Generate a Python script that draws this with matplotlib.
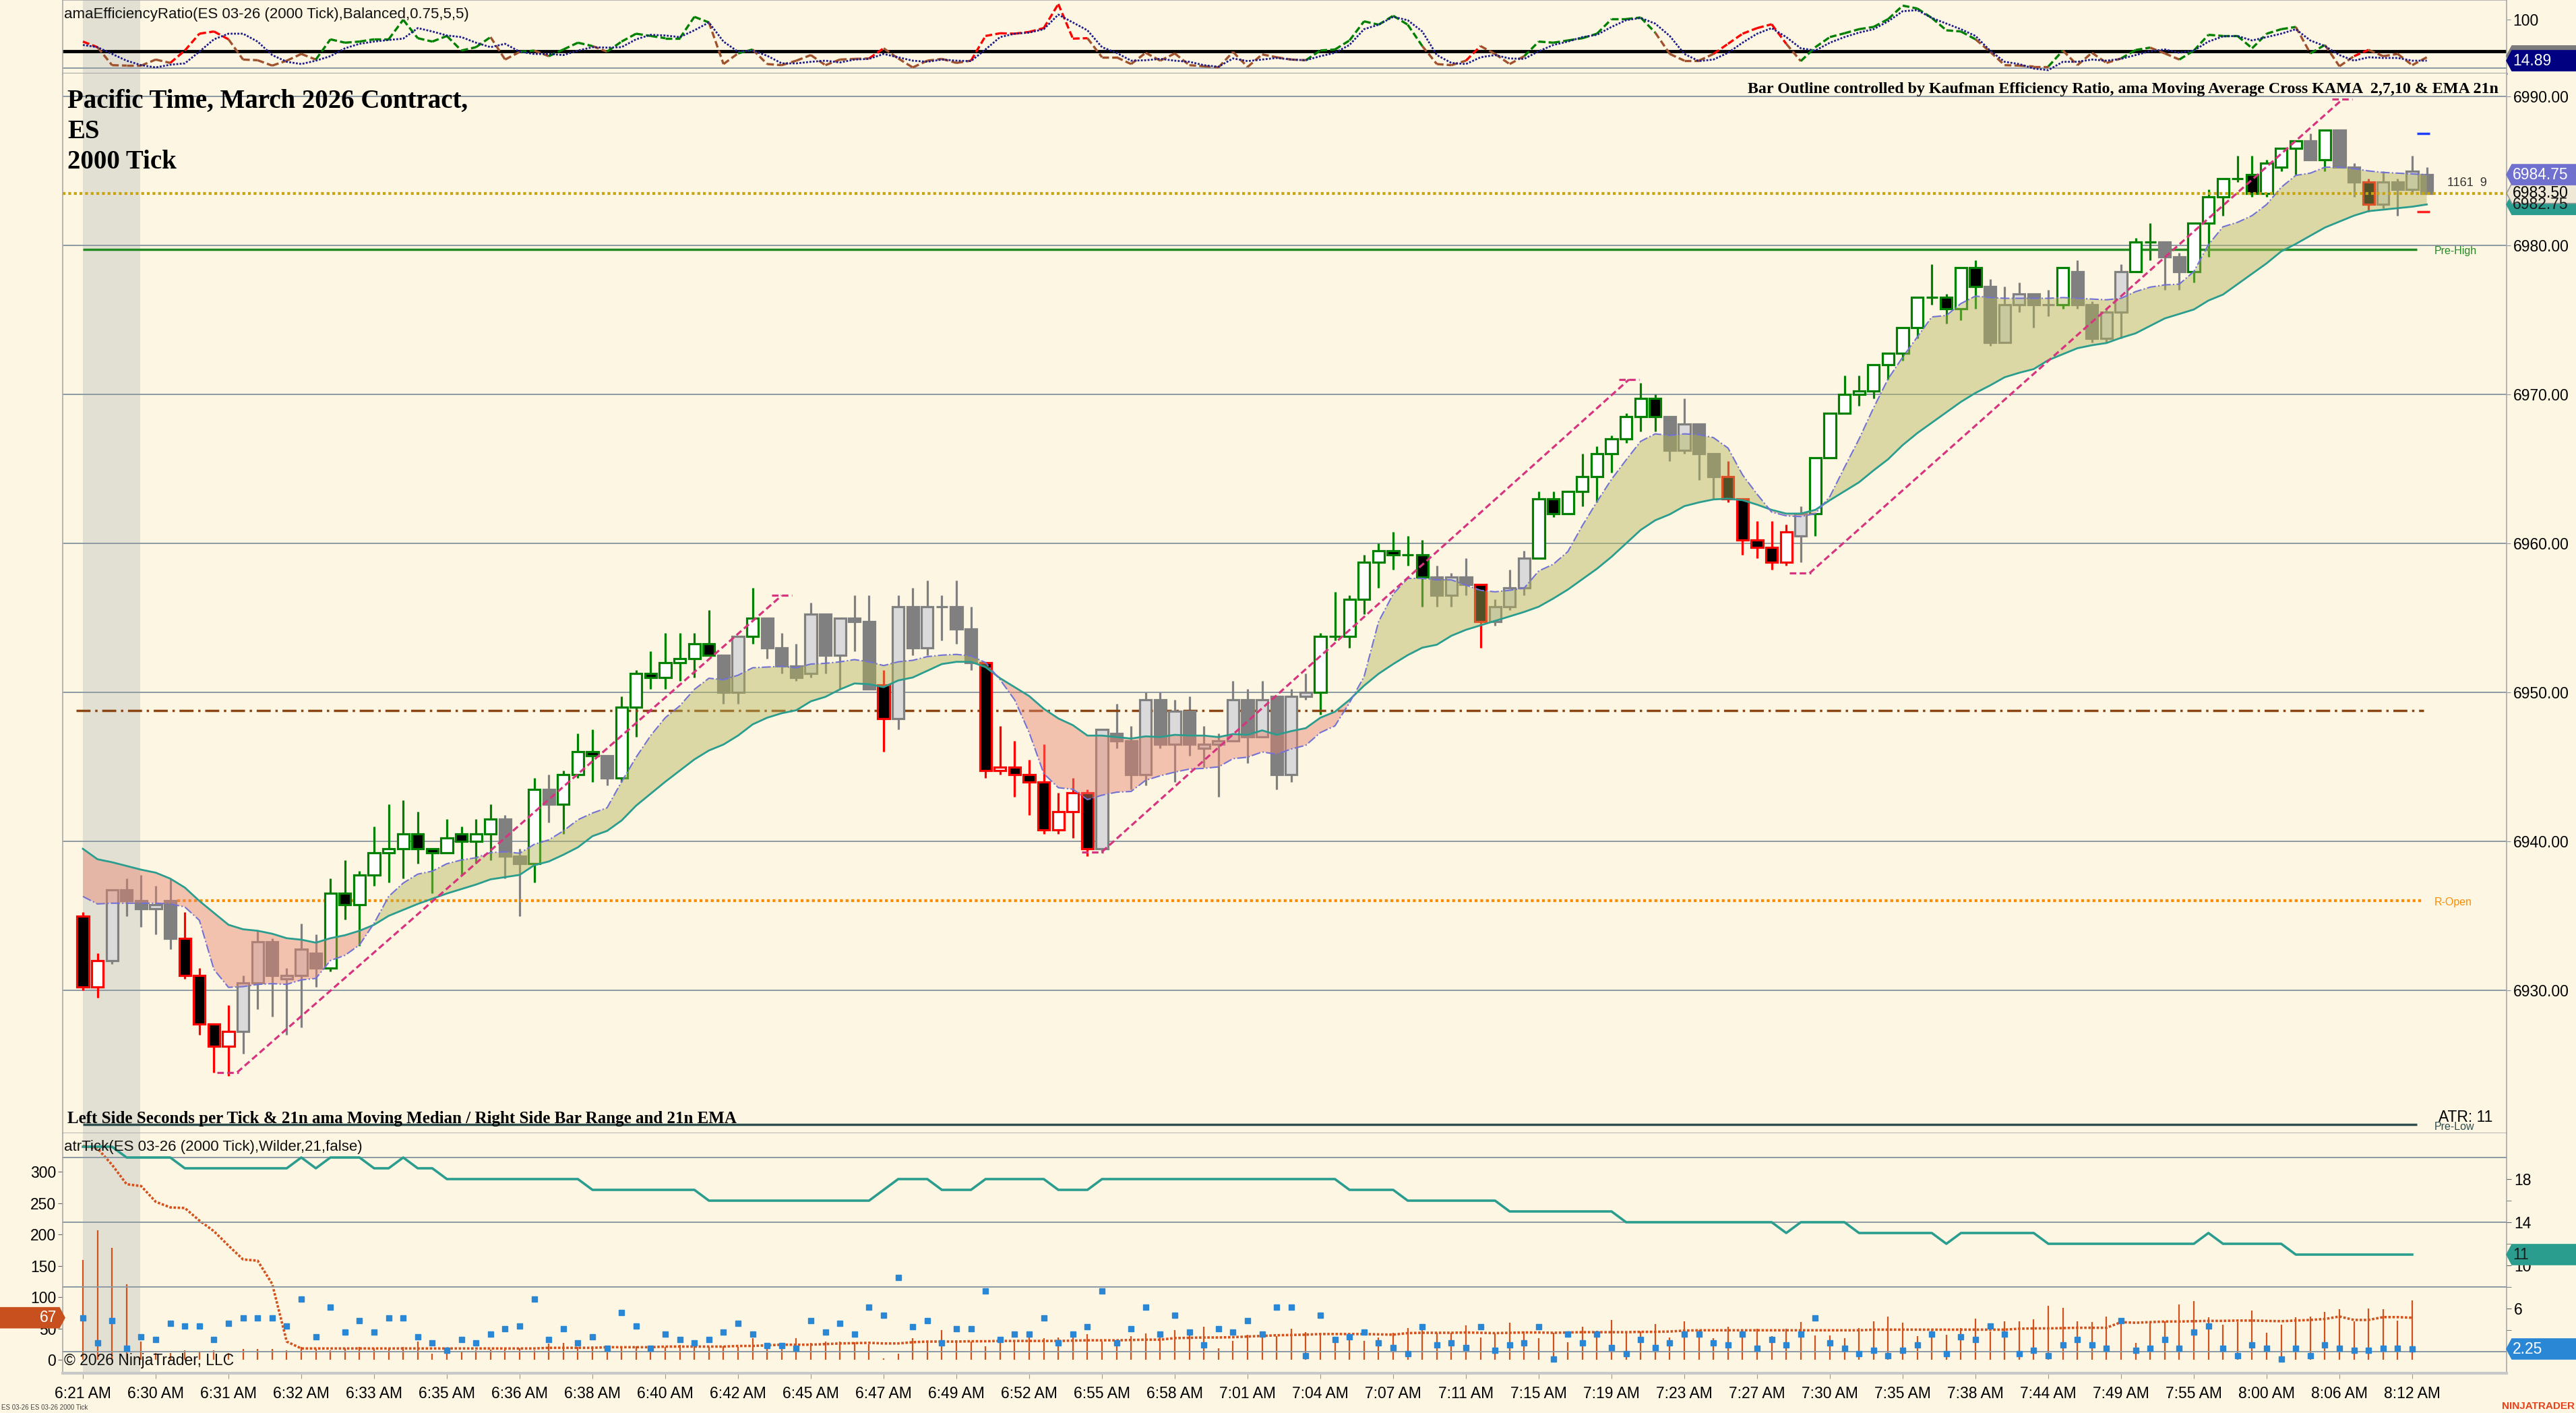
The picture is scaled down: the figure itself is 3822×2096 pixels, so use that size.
import numpy as np
import matplotlib.pyplot as plt
from matplotlib.patches import Polygon
from matplotlib.collections import LineCollection

plt.rcParams['font.family'] = ['Liberation Sans', 'DejaVu Sans']
SERIF = ['Liberation Serif', 'DejaVu Serif']

W_PX, H_PX = 3823, 2096
BG = '#fdf6e3'
GRID = '#8d9aa4'

# ---------------- 2000 tick bars (ES 03-26) ----------------
opens = [
    6935, 6930.25, 6932, 6936.75, 6936, 6935.5, 6936, 6933.5, 6931, 6927.75,
    6926.25, 6927.25, 6930.5, 6933.25, 6930.75, 6931, 6932.5, 6931.5, 6936.5, 6935.75,
    6937.75, 6939.25, 6939.5, 6940.5, 6939.5, 6939.25, 6940.5, 6940, 6940.5, 6941.5,
    6939, 6938.5, 6943.5, 6942.5, 6944.5, 6946, 6945.75, 6944.25, 6949, 6951.25,
    6951, 6952, 6952.25, 6953.25, 6952.5, 6950, 6953.75, 6955, 6953, 6951.75,
    6951.25, 6955.25, 6952.5, 6955, 6954.75, 6950.5, 6948.25, 6955.75, 6953, 6955.75,
    6955.75, 6954.25, 6952, 6944.75, 6945, 6944.5, 6944, 6940.75, 6942, 6943.25,
    6939.5, 6947.25, 6946.75, 6944.5, 6949.5, 6946.5, 6948.75, 6946.25, 6946.5, 6946.75,
    6949.5, 6947, 6949.75, 6944.5, 6949.75, 6950, 6953.75, 6953.75, 6956.25, 6958.75,
    6959.5, 6959.25, 6959.25, 6957.75, 6956.5, 6957.75, 6957.25, 6954.75, 6955.75, 6957,
    6959, 6963, 6962, 6963.5, 6964.5, 6966, 6967, 6968.5, 6969.75, 6968.5,
    6966.25, 6968, 6966, 6964.5, 6963, 6960.25, 6959.75, 6958.75, 6960.5, 6962,
    6965.75, 6968.75, 6970, 6970.25, 6972, 6972.75, 6974.5, 6976.5, 6976.5, 6975.75,
    6978.5, 6977.25, 6973.5, 6976, 6976.75, 6976, 6976, 6978.25, 6976, 6973.75,
    6975.5, 6978.25, 6980.25, 6980.25, 6979.25, 6978.25, 6981.5, 6983.25, 6984.5, 6984.75,
    6983.5, 6985.25, 6986.5, 6987, 6985.75, 6987.75, 6985.25, 6984.25, 6982.75, 6984.25,
    6983.75, 6984.75]
highs = [
    6935.25, 6932.5, 6936.75, 6937.5, 6937.75, 6937, 6937.5, 6935.25, 6931.5, 6927.75,
    6929, 6931, 6934, 6933.5, 6931.5, 6934.5, 6933.75, 6937.5, 6938.75, 6938,
    6941, 6942.5, 6942.75, 6942, 6939.5, 6941.5, 6941, 6941.5, 6942.5, 6941.75,
    6939.5, 6944.25, 6944.5, 6944.75, 6947.25, 6947.5, 6945.75, 6949.75, 6951.5, 6952.75,
    6954, 6954, 6954, 6955.5, 6952.5, 6953.75, 6957, 6955, 6954, 6953.25,
    6956, 6955.25, 6955, 6956.5, 6956.5, 6951.5, 6956.5, 6957, 6957.5, 6956.5,
    6957.5, 6955.75, 6952, 6947.75, 6946.75, 6945.5, 6946.5, 6943.25, 6944.25, 6943.5,
    6947.5, 6949.25, 6947.75, 6950, 6950, 6949.5, 6949.75, 6947.75, 6947.25, 6950.75,
    6950.25, 6950.75, 6949.75, 6950.25, 6951.25, 6954, 6956.75, 6956.5, 6959.25, 6960,
    6960.75, 6960.5, 6960.25, 6958.5, 6958, 6959, 6957.25, 6956.25, 6958.25, 6959.5,
    6963.5, 6963.5, 6963.5, 6966, 6966.5, 6967.25, 6968.75, 6970.75, 6970, 6968.5,
    6969.75, 6968, 6966, 6965.5, 6963, 6961.5, 6961.5, 6961.25, 6962.5, 6965.75,
    6968.75, 6971.25, 6971.25, 6972, 6972.75, 6974.5, 6976.5, 6978.75, 6976.75, 6978.5,
    6979, 6977.75, 6977.25, 6977.5, 6976.75, 6977, 6978.5, 6979, 6976.25, 6975.75,
    6978.75, 6980.5, 6981.5, 6980.25, 6979.5, 6981.5, 6983.75, 6984.5, 6986, 6986,
    6985.75, 6986.5, 6987, 6987.5, 6987.75, 6987.75, 6985.5, 6984.5, 6985, 6984.5,
    6986, 6985.25]
lows = [
    6930, 6929.5, 6931.75, 6935, 6934.25, 6933.75, 6932.75, 6930.75, 6927, 6924.5,
    6924.25, 6925.75, 6928.75, 6928.25, 6927, 6927.5, 6930.25, 6931.25, 6934.75, 6933,
    6937, 6937.25, 6937.5, 6938.5, 6936.5, 6939.25, 6937.75, 6938.5, 6938.75, 6937.5,
    6935, 6937.25, 6941.25, 6940.5, 6944.25, 6944, 6943.75, 6944, 6947, 6950.25,
    6950.25, 6950.75, 6951, 6952.5, 6949.25, 6949.25, 6953.25, 6952.25, 6951.25, 6950.75,
    6951, 6951.25, 6950.25, 6952.75, 6950.25, 6946, 6947.5, 6952.5, 6952.5, 6953.5,
    6953.25, 6951.5, 6944.25, 6944.5, 6943, 6941.75, 6940.5, 6940.5, 6940.25, 6939,
    6939.25, 6946.25, 6943.5, 6943.75, 6946.25, 6944, 6945.75, 6945, 6943, 6946.75,
    6945.25, 6947, 6943.5, 6944, 6949.5, 6948.5, 6953.5, 6953, 6955.25, 6957,
    6958.25, 6958.5, 6955.75, 6955.75, 6955.75, 6956.5, 6953, 6954.5, 6955.5, 6956.5,
    6959, 6961.75, 6962, 6962.5, 6962.75, 6964.75, 6966.75, 6967.5, 6967.5, 6965.5,
    6966, 6964.25, 6963, 6962.75, 6959.25, 6959, 6958.25, 6958.5, 6958.75, 6960.5,
    6965.75, 6968.75, 6969.25, 6969.75, 6971, 6972.25, 6973.75, 6976, 6974.75, 6975,
    6975.75, 6973.25, 6973.5, 6975.5, 6974.5, 6975.25, 6975.75, 6975.75, 6973.5, 6973.5,
    6973.75, 6978.25, 6979, 6977, 6977, 6977.5, 6979.25, 6982, 6984.25, 6983.25,
    6983.25, 6985, 6984.75, 6985.75, 6985, 6985.25, 6983.25, 6982.25, 6982.5, 6982,
    6983.5, 6983.5]
closes = [
    6930.25, 6932, 6936.75, 6936, 6935.5, 6935.75, 6933.5, 6931, 6927.75, 6926.25,
    6927.25, 6930.5, 6933.25, 6931, 6931, 6932.75, 6931.5, 6936.5, 6935.75, 6937.75,
    6939.25, 6939.5, 6940.5, 6939.5, 6939.25, 6940.25, 6940, 6940.5, 6941.5, 6939,
    6938.5, 6943.5, 6942.5, 6944.5, 6946, 6945.75, 6944.25, 6949, 6951.25, 6951,
    6952, 6952.25, 6953.25, 6952.5, 6950, 6953.75, 6955, 6953, 6951.75, 6951,
    6955.25, 6952.5, 6955, 6954.75, 6950.25, 6948.25, 6955.75, 6953, 6955.75, 6955.75,
    6954.25, 6952, 6944.75, 6945, 6944.5, 6944, 6940.75, 6942, 6943.25, 6939.5,
    6947.5, 6946.75, 6944.5, 6949.5, 6946.5, 6948.75, 6946.5, 6946.5, 6946.75, 6949.5,
    6947, 6949.5, 6944.5, 6949.75, 6950, 6953.75, 6953.75, 6956.25, 6958.75, 6959.5,
    6959.25, 6959.25, 6957.75, 6956.5, 6957.75, 6957.25, 6954.75, 6955.75, 6957, 6959,
    6963, 6962, 6963.5, 6964.5, 6966, 6967, 6968.5, 6969.75, 6968.5, 6966.25,
    6968, 6966, 6964.5, 6963, 6960.25, 6959.75, 6958.75, 6960.75, 6962, 6965.75,
    6968.75, 6970, 6970.25, 6972, 6972.75, 6974.5, 6976.5, 6976.5, 6975.75, 6978.5,
    6977.25, 6973.5, 6976, 6976.75, 6976, 6976, 6978.5, 6976, 6973.75, 6975.5,
    6978.25, 6980.25, 6980.25, 6979.25, 6978.25, 6981.5, 6983.25, 6984.5, 6984.5, 6983.5,
    6985.5, 6986.5, 6987, 6985.75, 6987.75, 6985.25, 6984.25, 6982.75, 6984.25, 6983.75,
    6985, 6983.5]

# bar outline state from the Kaufman efficiency ratio
green_bars = (list(range(17, 29)) + [31, 33, 34, 35] + list(range(37, 44)) + [46]
              + list(range(85, 93)) + list(range(100, 109)) + list(range(119, 131))
              + [136, 141, 142] + list(range(145, 153)) + [154])
red_bars = [0, 1, 7, 8, 9, 10, 55] + list(range(62, 70)) + [96] + list(range(113, 118)) + [157]

# KAMA 2,7,10 and EMA 21
kama_line = [
    6936.3, 6935.8, 6935.85, 6935.85, 6935.85, 6935.85, 6935.8, 6935.6, 6934.7, 6931.4,
    6930.2, 6930.25, 6930.4, 6930.45, 6930.4, 6930.7, 6930.8, 6932.0, 6932.35, 6933.05,
    6934.5, 6936.3, 6937.2, 6937.8, 6938.0, 6938.5, 6938.75, 6938.9, 6939.25, 6939.3,
    6939.2, 6939.8, 6940.1, 6940.7, 6941.45, 6941.9, 6942.25, 6944.0, 6945.65, 6947.1,
    6948.3, 6949.1, 6950.2, 6950.95, 6950.85, 6951.15, 6951.65, 6951.7, 6951.75, 6951.65,
    6951.9, 6951.95, 6952.05, 6952.2, 6952.05, 6951.8, 6952.05, 6952.15, 6952.4, 6952.5,
    6952.55, 6952.45, 6952.0, 6950.85, 6949.5, 6947.3, 6944.55, 6943.6, 6943.5, 6942.8,
    6943.1, 6943.3, 6943.35, 6944.1, 6944.4, 6944.65, 6944.85, 6944.9, 6945.0, 6945.55,
    6945.65, 6946.0, 6945.85, 6946.2, 6946.45, 6947.3, 6947.75, 6949.3, 6951.05, 6954.75,
    6956.6, 6957.65, 6957.65, 6957.55, 6957.55, 6957.2, 6956.85, 6956.75, 6956.85, 6957.0,
    6958.15, 6958.6, 6959.45, 6961.2, 6962.8, 6964.3, 6965.6, 6966.85, 6967.35, 6967.25,
    6967.35, 6967.3, 6967.1, 6966.4, 6964.6, 6963.3, 6962.1, 6961.85, 6961.8, 6962.0,
    6963.15, 6965.1, 6967.0, 6969.1, 6971.05, 6972.5, 6973.85, 6975.2, 6975.3, 6976.1,
    6976.6, 6976.5, 6976.45, 6976.45, 6976.45, 6976.45, 6976.5, 6976.45, 6976.4, 6976.35,
    6976.45, 6976.9, 6977.2, 6977.35, 6977.4, 6978.25, 6980.05, 6981.25, 6981.55, 6982.0,
    6982.75, 6983.9, 6984.7, 6984.85, 6985.25, 6985.25, 6985.15, 6985.0, 6984.9, 6984.85,
    6984.8, 6984.75]
ema_line = [
    6939.5, 6938.8, 6938.6, 6938.35, 6938.1, 6937.9, 6937.5, 6936.9, 6936.0, 6935.2,
    6934.4, 6934.1, 6934.0, 6933.8, 6933.5, 6933.4, 6933.2, 6933.5, 6933.7, 6934.0,
    6934.4, 6935.0, 6935.4, 6935.8, 6936.15, 6936.5, 6936.8, 6937.1, 6937.45, 6937.6,
    6937.75, 6938.4, 6938.65, 6939.1, 6939.6, 6940.35, 6940.7, 6941.4, 6942.4, 6943.2,
    6944.0, 6944.75, 6945.5, 6946.1, 6946.5, 6947.1, 6947.85, 6948.3, 6948.6, 6948.8,
    6949.4, 6949.7, 6950.2, 6950.6, 6950.55, 6950.35, 6950.8, 6951.0, 6951.45, 6951.9,
    6952.05, 6952.05, 6951.7, 6950.95, 6950.35, 6949.75, 6948.9, 6948.25, 6947.8, 6947.1,
    6947.1, 6947.0, 6946.9, 6947.05, 6947.0, 6947.15, 6947.1, 6947.1, 6947.0, 6947.2,
    6947.15, 6947.45, 6947.15, 6947.4, 6947.6, 6948.3, 6948.7, 6949.5, 6950.45, 6951.25,
    6951.9, 6952.5, 6953.0, 6953.2, 6953.8, 6954.2, 6954.5, 6954.8, 6955.1, 6955.4,
    6955.75, 6956.3, 6956.9, 6957.6, 6958.3, 6959.1, 6960.0, 6960.9, 6961.55, 6961.95,
    6962.5, 6962.75, 6962.95, 6963.0, 6962.9, 6962.6, 6962.25, 6962.0, 6962.0, 6962.25,
    6962.9, 6963.5, 6964.1, 6964.9, 6965.65, 6966.6, 6967.4, 6968.1, 6968.8, 6969.5,
    6970.1, 6970.6, 6971.15, 6971.45, 6971.7, 6972.3, 6972.7, 6973.1, 6973.3, 6973.45,
    6973.8, 6974.1, 6974.6, 6975.1, 6975.4, 6975.7, 6976.3, 6976.7, 6977.4, 6978.1,
    6978.8, 6979.6, 6980.1, 6980.65, 6981.2, 6981.6, 6982.0, 6982.3, 6982.4, 6982.5,
    6982.6, 6982.75]

# reference levels
price_grid = [6930, 6940, 6950, 6960, 6970, 6980, 6990]
pre_high = 6979.75
pre_low = 6921.0
mid_level = 6948.8
r_open = 6936.0
last_price = 6983.5
proj_high = 6987.5
proj_low = 6982.25

# trend channels: (start bar, start price) -> (end bar, end price)
trend_starts = [(10.6, 6924.5), (70.0, 6939.3), (118.6, 6958.0)]
trend_ends = [(48.0, 6956.5), (106.2, 6971.0), (155.2, 6989.8)]

# ---------------- efficiency ratio panel ----------------
er_raw = [
    54.4, 42.8, 5.6, 4.7, 4.7, 17.2, 10.2, 35.8, 70.7, 75.3,
    59.1, 17.2, 15.8, 4.7, 14.9, 28.8, 17.2, 59.1, 52.1, 54.4,
    59.1, 59.1, 99.5, 61.4, 54.4, 66.0, 35.8, 42.8, 63.7, 17.2,
    33.0, 35.8, 24.2, 38.0, 52.1, 45.1, 33.5, 54.4, 70.7, 66.0,
    61.4, 61.4, 105.6, 94.0, 7.9, 30.0, 38.0, 7.9, 5.6, 14.9,
    26.5, 5.6, 17.2, 18.6, 19.5, 40.5, 19.5, 0.9, 14.9, 18.6,
    10.2, 14.9, 66.0, 71.6, 70.7, 74.4, 82.3, 132.1, 60.5, 61.4,
    21.9, 21.9, 7.9, 31.2, 14.9, 29.8, 5.6, 3.3, 0.9, 33.0,
    1.9, 27.9, 21.9, 17.2, 15.8, 36.0, 38.0, 56.7, 96.3, 89.3,
    107.9, 89.3, 45.1, 7.9, 5.6, 14.9, 45.1, 28.8, 7.9, 24.2,
    54.4, 52.1, 56.7, 61.4, 70.7, 100.9, 100.9, 104.2, 73.0, 28.8,
    14.9, 14.9, 28.8, 49.8, 70.7, 82.3, 90.2, 49.8, 14.0, 42.8,
    63.7, 71.6, 80.0, 84.7, 100.9, 128.8, 122.8, 103.3, 77.7, 75.3,
    59.1, 33.5, 5.6, 4.7, 2.8, 2.8, 35.8, 5.6, 31.2, 10.2,
    19.5, 37.0, 41.9, 30.0, 17.2, 35.8, 68.4, 66.0, 66.0, 40.5,
    70.7, 80.0, 84.7, 30.0, 47.4, 3.3, 24.2, 37.2, 24.2, 28.8,
    5.6, 21.9]
er_smooth = [
    47.4, 42.8, 28.8, 14.9, 5.6, 0.9, 6.5, 9.3, 33.5, 59.1,
    70.7, 70.7, 54.4, 26.5, 12.6, 7.9, 14.9, 24.2, 40.5, 49.8,
    54.4, 57.7, 60.5, 82.3, 75.3, 67.0, 63.7, 52.1, 42.8, 49.8,
    33.5, 28.8, 28.8, 26.5, 35.8, 42.8, 41.9, 42.8, 59.1, 68.4,
    67.0, 63.7, 77.7, 94.0, 54.4, 33.5, 35.8, 25.1, 9.3, 9.3,
    12.6, 14.9, 11.2, 17.2, 18.6, 28.8, 21.9, 14.9, 12.6, 17.2,
    14.9, 14.0, 38.1, 63.7, 70.7, 73.0, 80.0, 110.2, 94.0, 77.7,
    42.8, 31.2, 14.9, 15.8, 18.6, 14.9, 12.6, 5.6, 2.3, 19.5,
    14.0, 17.2, 20.5, 17.2, 15.8, 24.2, 31.2, 47.4, 80.0, 89.3,
    105.6, 98.6, 75.3, 26.5, 10.2, 7.9, 21.9, 26.5, 19.5, 18.6,
    34.4, 47.4, 54.4, 63.7, 68.4, 84.7, 98.6, 103.3, 91.6, 66.0,
    28.8, 14.0, 17.2, 31.2, 52.1, 70.7, 82.3, 63.7, 40.5, 35.8,
    52.1, 63.7, 73.0, 80.0, 96.3, 117.2, 119.5, 103.3, 91.6, 80.0,
    66.0, 35.8, 12.6, 7.9, -1.4, -4.7, 12.6, 12.6, 17.2, 14.9,
    18.6, 26.5, 34.4, 38.1, 31.2, 35.8, 54.4, 65.1, 66.0, 56.7,
    63.7, 70.7, 80.0, 56.7, 45.1, 26.5, 14.9, 21.9, 20.5, 20.5,
    14.9, 14.89]
er_threshold = 35

# ---------------- lower panel (bars 0..160) ----------------
sec_per_bar = [
    159.5, 206, 179, 120, 29, 11, 11, 15, 14, 15,
    11, 17, 17, 17, 15, 20, 17, 15, 18, 20,
    18, 18, 20, 29, 9.5, 15, 13, 15, 16, 18,
    18, 15, 25.5, 26.5, 20, 22, 18, 18, 22, 20,
    20, 24, 22, 20, 22, 20, 34.5, 27, 27, 34,
    27, 29, 29, 28, 25, 2, 10, 34.5, 28, 47,
    31, 29, 22, 36, 29, 36, 34.5, 35, 35, 41,
    29, 31, 38, 42, 45, 47, 40, 53, 18, 30,
    40, 43.5, 38, 50, 44.6, 42, 36, 31, 30, 36,
    43.5, 51, 47, 43.5, 43.5, 55, 36, 42, 59, 45,
    34.5, 43.5, 28.5, 53, 46, 63, 43.5, 45, 57, 35,
    61.5, 47, 34.5, 52.5, 47, 49, 38, 49, 60, 39,
    39, 34.5, 51, 61, 69, 59, 38, 46.5, 40, 51,
    66, 45, 61, 61, 65, 86, 83, 61.5, 60, 69,
    67, 27, 60, 61, 88.5, 94, 68, 56, 60, 79,
    43.5, 56, 68, 69, 76, 80.5, 61.5, 82, 81, 62.5,
    95]
sec_median = [
    341, 337, 311, 280, 277, 252, 243, 242, 222, 205,
    182, 160, 158, 121, 29, 18, 18, 18, 18, 18,
    18, 18, 18, 18, 18, 18, 18, 18, 18, 18,
    18, 18, 19, 19, 19, 19, 20, 20, 20, 20,
    21, 21, 21, 21, 21, 22, 22, 23, 24, 24,
    24, 25, 26, 26.5, 27, 26, 26, 28, 29, 29,
    29, 29.5, 29.5, 30, 30, 30, 30, 30, 30.5, 31,
    31, 31, 31.5, 32, 32, 34.5, 35, 35.5, 35.5, 36,
    37, 38, 39, 39.5, 40, 41, 41, 41, 41, 40.5,
    40, 42.5, 43, 43, 43, 43.5, 43, 42.5, 43, 43.5,
    43.5, 43, 43.5, 44, 44, 44, 44, 44.5, 44.5, 45,
    46.5, 47, 47, 47, 47, 47, 47, 47, 47, 47,
    47, 47, 47, 48, 48, 48, 48, 48, 48, 48,
    48, 48, 48, 49.5, 50, 50, 50.5, 51, 51, 51,
    60, 59, 60, 61, 61, 61.5, 62, 62, 62.5, 62.5,
    62, 61.5, 62.5, 63.5, 65, 69, 63.5, 63.5, 68, 68,
    67]
bar_range = [
    5.1, 2.8, 4.9, 2.3, 3.35, 3.1, 4.6, 4.35, 4.35, 3.1,
    4.6, 5.15, 5.15, 5.15, 4.35, 6.9, 3.35, 6.1, 3.8, 4.9,
    3.8, 5.15, 5.15, 3.35, 2.8, 2.1, 3.1, 2.8, 3.6, 4.1,
    4.35, 6.9, 3.1, 4.1, 2.8, 3.35, 2.3, 5.65, 4.35, 2.3,
    3.6, 3.1, 2.8, 3.1, 3.8, 4.6, 3.6, 2.55, 2.55, 2.3,
    4.9, 3.8, 4.6, 3.6, 6.1, 5.4, 8.9, 4.3, 4.9, 2.8,
    4.1, 4.1, 7.6, 3.1, 3.6, 3.6, 5.1, 2.8, 3.6, 4.3,
    7.6, 2.8, 4.1, 6.1, 3.6, 5.4, 3.8, 2.6, 4.1, 3.8,
    4.9, 3.6, 6.1, 6.1, 1.6, 5.4, 3.1, 3.4, 3.8, 2.8,
    2.35, 1.83, 4.3, 2.6, 2.8, 2.35, 4.3, 2.1, 2.6, 2.8,
    4.3, 1.33, 3.6, 2.8, 3.6, 2.35, 1.83, 3.1, 2.35, 2.8,
    3.6, 3.6, 2.8, 2.6, 3.6, 2.3, 3.1, 2.6, 3.6, 5.1,
    2.8, 2.3, 1.8, 2.1, 1.6, 2.1, 2.6, 3.6, 1.8, 3.35,
    3.1, 4.35, 3.6, 1.8, 2.1, 1.6, 2.6, 3.1, 2.6, 2.3,
    4.9, 2.1, 2.3, 3.1, 2.3, 3.8, 4.35, 2.3, 1.6, 2.6,
    2.3, 1.33, 2.3, 1.6, 2.6, 2.3, 2.1, 2.1, 2.3, 2.3,
    2.25]
atr_ticks = [
    21, 21, 21, 20, 20, 20, 20, 19, 19, 19,
    19, 19, 19, 19, 19, 20, 19, 20, 20, 20,
    19, 19, 20, 19, 19, 18, 18, 18, 18, 18,
    18, 18, 18, 18, 18, 17, 17, 17, 17, 17,
    17, 17, 17, 16, 16, 16, 16, 16, 16, 16,
    16, 16, 16, 16, 16, 17, 18, 18, 18, 17,
    17, 17, 18, 18, 18, 18, 18, 17, 17, 17,
    18, 18, 18, 18, 18, 18, 18, 18, 18, 18,
    18, 18, 18, 18, 18, 18, 18, 17, 17, 17,
    17, 16, 16, 16, 16, 16, 16, 16, 15, 15,
    15, 15, 15, 15, 15, 15, 14, 14, 14, 14,
    14, 14, 14, 14, 14, 14, 14, 13, 14, 14,
    14, 14, 13, 13, 13, 13, 13, 13, 12, 13,
    13, 13, 13, 13, 13, 12, 12, 12, 12, 12,
    12, 12, 12, 12, 12, 12, 13, 12, 12, 12,
    12, 12, 11, 11, 11, 11, 11, 11, 11, 11,
    11]

time_labels = ['6:21 AM', '6:30 AM', '6:31 AM', '6:32 AM', '6:33 AM', '6:35 AM', '6:36 AM',
               '6:38 AM', '6:40 AM', '6:42 AM', '6:45 AM', '6:47 AM', '6:49 AM', '6:52 AM',
               '6:55 AM', '6:58 AM', '7:01 AM', '7:04 AM', '7:07 AM', '7:11 AM', '7:15 AM',
               '7:19 AM', '7:23 AM', '7:27 AM', '7:30 AM', '7:35 AM', '7:38 AM', '7:44 AM',
               '7:49 AM', '7:55 AM', '8:00 AM', '8:06 AM', '8:12 AM']

n = len(opens)
for arr in (highs, lows, closes, kama_line, ema_line, er_raw, er_smooth):
    assert len(arr) == n, len(arr)
for arr in (sec_per_bar, sec_median, bar_range):
    assert len(arr) == len(atr_ticks), len(arr)

x = np.arange(n)
xb = np.arange(len(atr_ticks))
XLIM = (-1.39, 166.48)


def fx(px):
    return px / W_PX


def fy(py):
    return 1 - py / H_PX


fig = plt.figure(figsize=(W_PX / 100, H_PX / 100), dpi=100, facecolor=BG)
L, R = fx(93), fx(3719)
ax_er = fig.add_axes([L, fy(109), R - L, fy(0) - fy(109)])
ax = fig.add_axes([L, fy(1681), R - L, fy(109) - fy(1681)])
ax_b = fig.add_axes([L, fy(2037), R - L, fy(1681) - fy(2037)])
ax_b2 = ax_b.twinx()

for a in (ax_er, ax, ax_b):
    a.set_facecolor(BG)
    a.set_xlim(*XLIM)
    a.axvspan(-0.02, 3.95, color='#e2e0d3', lw=0, zorder=0)
    for s in a.spines.values():
        s.set_color('#a8a8a8')
        s.set_linewidth(1.2)
ax_b2.patch.set_visible(False)
for s in ax_b2.spines.values():
    s.set_visible(False)

# ================= main price panel =================
ax.set_ylim(6920.41, 6991.54)
for p in price_grid:
    ax.axhline(p, color=GRID, lw=1.4, zorder=1)

edge, face = [], []
for i in range(n):
    up = closes[i] >= opens[i]
    if i in green_bars:
        edge.append('#008000')
        face.append('white' if up else 'black')
    elif i in red_bars:
        edge.append('#ff0000')
        face.append('white' if up else 'black')
    else:
        edge.append('#808080')
        face.append('#dadada' if up else '#808080')
o = np.array(opens)
c = np.array(closes)
ax.vlines(x, lows, highs, colors=edge, lw=2.3, zorder=2)
ax.bar(x, np.abs(c - o), bottom=np.minimum(o, c), width=0.8, color=face,
       edgecolor=edge, linewidth=2.3, zorder=3)

kama = np.array(kama_line)
ema = np.array(ema_line)
ax.fill_between(x, kama, ema, where=kama >= ema, interpolate=True,
                color='#b5b55a', alpha=0.45, lw=0, zorder=4)
ax.fill_between(x, kama, ema, where=kama < ema, interpolate=True,
                color='#e8846f', alpha=0.45, lw=0, zorder=4)
ax.plot(x, ema, color='#2a9d8f', lw=2.0, zorder=5)
ax.plot(x, kama, color='#7272d4', lw=1.5, ls='-.', zorder=5)

ax.hlines(pre_high, 0, 160.3, color='#228b22', lw=2.5, zorder=2)
ax.hlines(pre_low, 0, 160.3, color='#2f4f4f', lw=2.5, zorder=2)
ax.hlines(mid_level, -0.45, 160.8, color='#8b4513', lw=2.5, ls=(0, (6, 2, 1, 2)), zorder=2)
ax.hlines(r_open, 6.5, 160.8, color='#ff8c00', lw=3, ls=(0, (1, 1)), zorder=2)
ax.axhline(last_price, color='#c8a415', lw=3, ls=(0, (1, 1)), zorder=6)

pink = '#d6347f'
for (x0, y0), (x1, y1) in zip(trend_starts, trend_ends):
    ax.plot([x0, x1], [y0, y1], color=pink, lw=2.3, ls=(0, (3, 1.6)), zorder=7)
    ax.plot([x0 - 1.4, x0 + 0.1], [y0, y0], color=pink, lw=2.3, ls=(0, (3, 1.6)), zorder=7)
    ax.plot([x1 - 0.7, x1 + 0.7], [y1, y1], color=pink, lw=2.3, ls=(0, (3, 1.6)), zorder=7)

ax.hlines(proj_high, 160.3, 161.2, color='#1f3fff', lw=2.5, zorder=7)
ax.hlines(proj_low, 160.3, 161.2, color='#ff2020', lw=2.5, zorder=7)

ax.yaxis.tick_right()
ax.set_yticks(price_grid)
ax.set_yticklabels([f'{p:.2f}' for p in price_grid])
ax.tick_params(axis='y', labelsize=16.5, length=4, color=GRID, pad=3)
ax.tick_params(axis='x', bottom=False, labelbottom=False)
ax.spines['top'].set_visible(False)

# ================= efficiency ratio panel =================
ax_er.set_ylim(-11.6, 140.4)
ax_er.axhline(0, color=GRID, lw=1.4, zorder=1)
ax_er.axhline(er_threshold, color='black', lw=3.5, zorder=2)
state_col = []
for i in range(n):
    if i in red_bars:
        state_col.append('#ff0000')
    elif i in green_bars:
        state_col.append('#008000')
    else:
        state_col.append('#a0522d')
segs = [[(i - 1, er_raw[i - 1]), (i, er_raw[i])] for i in range(1, n)]
ax_er.add_collection(LineCollection(segs, colors=state_col[1:], linewidths=2.4,
                                    linestyles=(0, (3, 1.4)), zorder=3))
ax_er.plot(x, er_smooth, color='#1c1c8a', lw=2.0, ls=(0, (1, 0.8)), zorder=4)
ax_er.yaxis.tick_right()
ax_er.set_yticks([100])
ax_er.set_yticklabels(['100'])
ax_er.tick_params(axis='y', labelsize=16.5, length=4, color=GRID, pad=3)
ax_er.tick_params(axis='x', bottom=False, labelbottom=False)
ax_er.spines['bottom'].set_linewidth(2.2)

# ================= lower panel =================
ax_b.set_ylim(-21.5, 361.3)
ax_b2.set_ylim(0.0, 22.25)
ax_b2.set_xlim(*XLIM)
for g in (2, 8, 14, 20):
    ax_b2.axhline(g, color=GRID, lw=1.4, zorder=0.5)
ax_b.vlines(xb, 0, sec_per_bar, color='#d2521e', lw=1.6, zorder=2)
ax_b.plot(xb, sec_median, color='#d2521e', lw=2.6, ls=(0, (1, 0.7)), zorder=3)
ax_b2.plot(xb, atr_ticks, color='#2a9d8f', lw=2.6, zorder=3)
ax_b2.plot(xb, bar_range, ls='none', marker='s', ms=6, color='#2a87d6', zorder=4)

ax_b.set_yticks([0, 50, 100, 150, 200, 250, 300])
ax_b.tick_params(axis='y', labelsize=16.5, length=5, color='#666666', pad=2)
ax_b2.set_yticks([6, 10, 14, 18])
ax_b2.set_yticks([4, 8, 12, 16], minor=True)
ax_b2.tick_params(axis='y', which='both', labelsize=16.5, length=5, color='#666666', pad=3)
ax_b.set_xticks(np.arange(0, 161, 5))
ax_b.set_xticklabels(time_labels)
ax_b.tick_params(axis='x', labelsize=16.5, length=6, color='#999999', pad=8)
ax_b.spines['top'].set_visible(False)
ax_b.spines['bottom'].set_color('#c8c8c8')
ax_b.spines['bottom'].set_linewidth(3)


# ---------------- price tags ----------------
def tag(a, y, text, fc, tc, side='right', ec=None, h=30):
    yd = a.transData.transform((0, y))[1]
    if side == 'right':
        x0, x1 = 3719, 3823
        pts = [(x0, yd), (x0 + 8, yd + h / 2), (x1, yd + h / 2), (x1, yd - h / 2), (x0 + 8, yd - h / 2)]
        tx, ha = x0 + 9, 'left'
    else:
        x0, x1 = 0, 96
        pts = [(x0, yd - h / 2), (x0, yd + h / 2), (x1 - 8, yd + h / 2), (x1, yd), (x1 - 8, yd - h / 2)]
        tx, ha = x1 - 12, 'right'
    pts = [(px / W_PX, py / H_PX) for px, py in pts]
    fig.add_artist(Polygon(pts, closed=True, transform=fig.transFigure, fc=fc,
                           ec=ec or fc, lw=1.2, zorder=5))
    fig.text(tx / W_PX, yd / H_PX, text, ha=ha, va='center', fontsize=16.5, color=tc, zorder=6)


tag(ax_er, 24.7, '', '#7a7a7a', '#7a7a7a')
tag(ax_er, er_smooth[-1], f'{er_smooth[-1]:.2f}', '#000080', 'white')
tag(ax, ema_line[-1], f'{ema_line[-1]:.2f}', '#2a9d8f', '#1a1a1a')
tag(ax, last_price, f'{last_price:.2f}', '#efe8d6', 'black', ec='#9a9a9a')
tag(ax, kama_line[-1], f'{kama_line[-1]:.2f}', '#7070cf', 'white')
tag(ax_b2, atr_ticks[-1], f'{atr_ticks[-1]}', '#2a9d8f', '#1a1a1a')
tag(ax_b2, bar_range[-1], f'{bar_range[-1]:.2f}', '#2a87d6', 'white')
tag(ax_b, sec_median[-1], f'{sec_median[-1]:.0f}', '#c8501e', 'white', side='left')

# ---------------- texts ----------------
fig.text(fx(95), fy(27), 'amaEfficiencyRatio(ES 03-26 (2000 Tick),Balanced,0.75,5,5)',
         fontsize=16, color='#111111', va='baseline')
fig.text(fx(100), fy(160), 'Pacific Time, March 2026 Contract,', family=SERIF,
         weight='bold', fontsize=28, va='baseline')
fig.text(fx(100), fy(205), 'ES', family=SERIF, weight='bold', fontsize=28, va='baseline')
fig.text(fx(100), fy(250), '2000 Tick', family=SERIF, weight='bold', fontsize=28, va='baseline')
fig.text(fx(3707), fy(138),
         'Bar Outline controlled by Kaufman Efficiency Ratio, ama Moving Average Cross KAMA  2,7,10 & EMA 21n',
         family=SERIF, weight='bold', fontsize=17.3, ha='right', va='baseline')
fig.text(fx(100), fy(1666),
         'Left Side Seconds per Tick & 21n ama Moving Median / Right Side Bar Range and 21n EMA',
         family=SERIF, weight='bold', fontsize=18, va='baseline')
fig.text(fx(95), fy(1707), 'atrTick(ES 03-26 (2000 Tick),Wilder,21,false)', fontsize=16,
         color='#111111', va='baseline')
fig.text(fx(95), fy(2025), '\u00a9 2026 NinjaTrader, LLC', fontsize=16.5, color='#111111',
         va='baseline')
fig.text(fx(3618), fy(1658), 'ATR: 11', fontsize=16.5, va='center')
fig.text(fx(3612), fy(1671), 'Pre-Low', fontsize=11.5, color='#2f4f4f', va='center')
fig.text(fx(3612), fy(372), 'Pre-High', fontsize=11.5, color='#228b22', va='center')
fig.text(fx(3612), fy(1339), 'R-Open', fontsize=11.5, color='#ff8c00', va='center')
fig.text(fx(3631), fy(271), '1161  9', fontsize=13, color='#333333', va='center')
fig.text(fx(2), fy(2088), 'ES 03-26 ES 03-26 2000 Tick', fontsize=7, color='#444444', va='center')
fig.text(fx(3712), fy(2086), 'NINJATRADER', fontsize=11, weight='bold', color='#e8411b',
         va='center')

fig.savefig('out.png', dpi=100, facecolor=BG)
